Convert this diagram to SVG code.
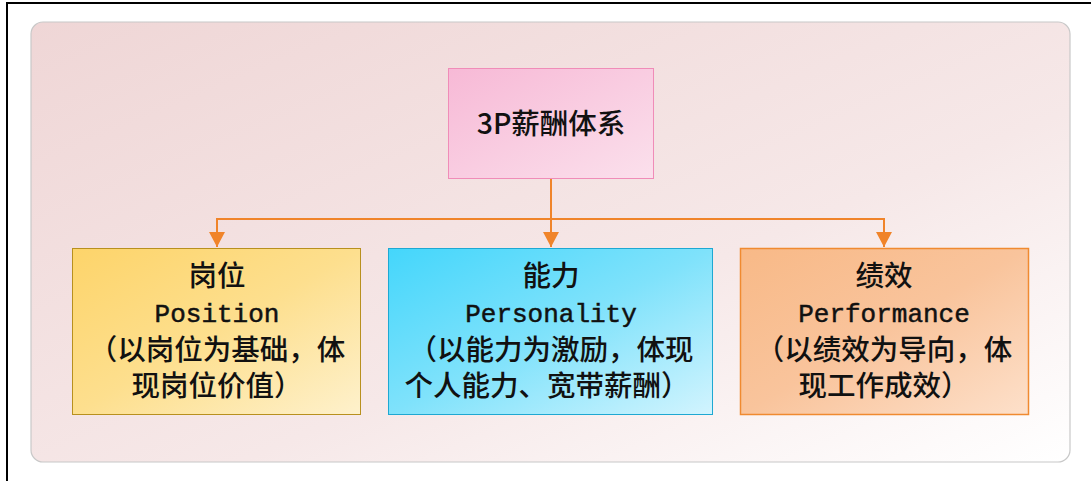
<svg xmlns="http://www.w3.org/2000/svg" width="1091" height="481" viewBox="0 0 1091 481">
<defs>
<linearGradient id="bg" x1="0" y1="0" x2="1" y2="1">
<stop offset="0" stop-color="#efd6d6"/>
<stop offset="0.6" stop-color="#f6e8e8"/>
<stop offset="1" stop-color="#ffffff"/>
</linearGradient>
<linearGradient id="gPink" x1="0" y1="0" x2="1" y2="1">
<stop offset="0" stop-color="#f7b9d6"/>
<stop offset="1" stop-color="#fbe0ec"/>
</linearGradient>
<linearGradient id="gYel" x1="0" y1="0" x2="1" y2="1">
<stop offset="0" stop-color="#fdd46a"/>
<stop offset="0.5" stop-color="#fddf8e"/>
<stop offset="1" stop-color="#fef1cc"/>
</linearGradient>
<linearGradient id="gCyan" x1="0" y1="0" x2="1" y2="1">
<stop offset="0" stop-color="#44d6fb"/>
<stop offset="0.5" stop-color="#7fe2fb"/>
<stop offset="1" stop-color="#d2f4fe"/>
</linearGradient>
<linearGradient id="gOra" x1="0" y1="0" x2="1" y2="1">
<stop offset="0" stop-color="#f8b987"/>
<stop offset="0.5" stop-color="#f9c49c"/>
<stop offset="1" stop-color="#fde0ca"/>
</linearGradient>
<marker id="arr" viewBox="0 0 15 16" refX="15" refY="8" markerWidth="15" markerHeight="16" markerUnits="userSpaceOnUse" orient="auto">
<path d="M0,0 L15,8 L0,16 Z" fill="#f0842a"/>
</marker>
<style>
.cjk{font-family:"Noto Sans CJK SC","Noto Sans",sans-serif;font-size:28.5px;font-weight:500;fill:#111;text-anchor:middle}
.lat{font-family:"Liberation Mono","DejaVu Sans Mono",monospace;font-size:26px;fill:#111;stroke:#111;stroke-width:0.5;text-anchor:middle}
.conn{fill:none;stroke:#f0842a;stroke-width:2}
</style>
</defs>
<rect x="0" y="0" width="1091" height="481" fill="#ffffff"/>
<path d="M7,481 V3 H1091" fill="none" stroke="#000" stroke-width="2"/>
<rect x="31" y="22" width="1039" height="440" rx="12" fill="url(#bg)" stroke="#c8c8c8" stroke-width="1.2"/>
<g id="connectors">
<path class="conn" d="M551,179 V219"/>
<path class="conn" d="M217,232 V219 H884 V232"/>
<path class="conn" d="M217,219 V247" marker-end="url(#arr)"/>
<path class="conn" d="M551,219 V247" marker-end="url(#arr)"/>
<path class="conn" d="M884,219 V247" marker-end="url(#arr)"/>
</g>
<g id="node-root">
<rect x="448.5" y="68.5" width="205" height="110" fill="url(#gPink)" stroke="#f08cb8" stroke-width="1"/>
<text x="551" y="134" class="cjk" font-size="28">3P薪酬体系</text>
</g>
<g id="node-position">
<rect x="72.5" y="248.5" width="288" height="166" fill="url(#gYel)" stroke="#b8901e" stroke-width="1"/>
<text class="cjk" x="217" y="286">岗位</text>
<text class="lat" x="217" y="322">Position</text>
<text class="cjk" x="217" y="360">（以岗位为基础，体</text>
<text class="cjk" x="217" y="396">现岗位价值）</text>
</g>
<g id="node-personality">
<rect x="388.5" y="248.5" width="324" height="166" fill="url(#gCyan)" stroke="#1ea8d2" stroke-width="1"/>
<text class="cjk" x="551" y="286">能力</text>
<text class="lat" x="551" y="322">Personality</text>
<text class="cjk" x="551" y="360">（以能力为激励，体现</text>
<text class="cjk" x="547" y="396">个人能力、宽带薪酬）</text>
</g>
<g id="node-performance">
<rect x="740.5" y="248.5" width="288" height="166" fill="url(#gOra)" stroke="#f08a30" stroke-width="1.5"/>
<text class="cjk" x="884" y="286">绩效</text>
<text class="lat" x="884" y="322">Performance</text>
<text class="cjk" x="884" y="360">（以绩效为导向，体</text>
<text class="cjk" x="884" y="396">现工作成效）</text>
</g>
</svg>
